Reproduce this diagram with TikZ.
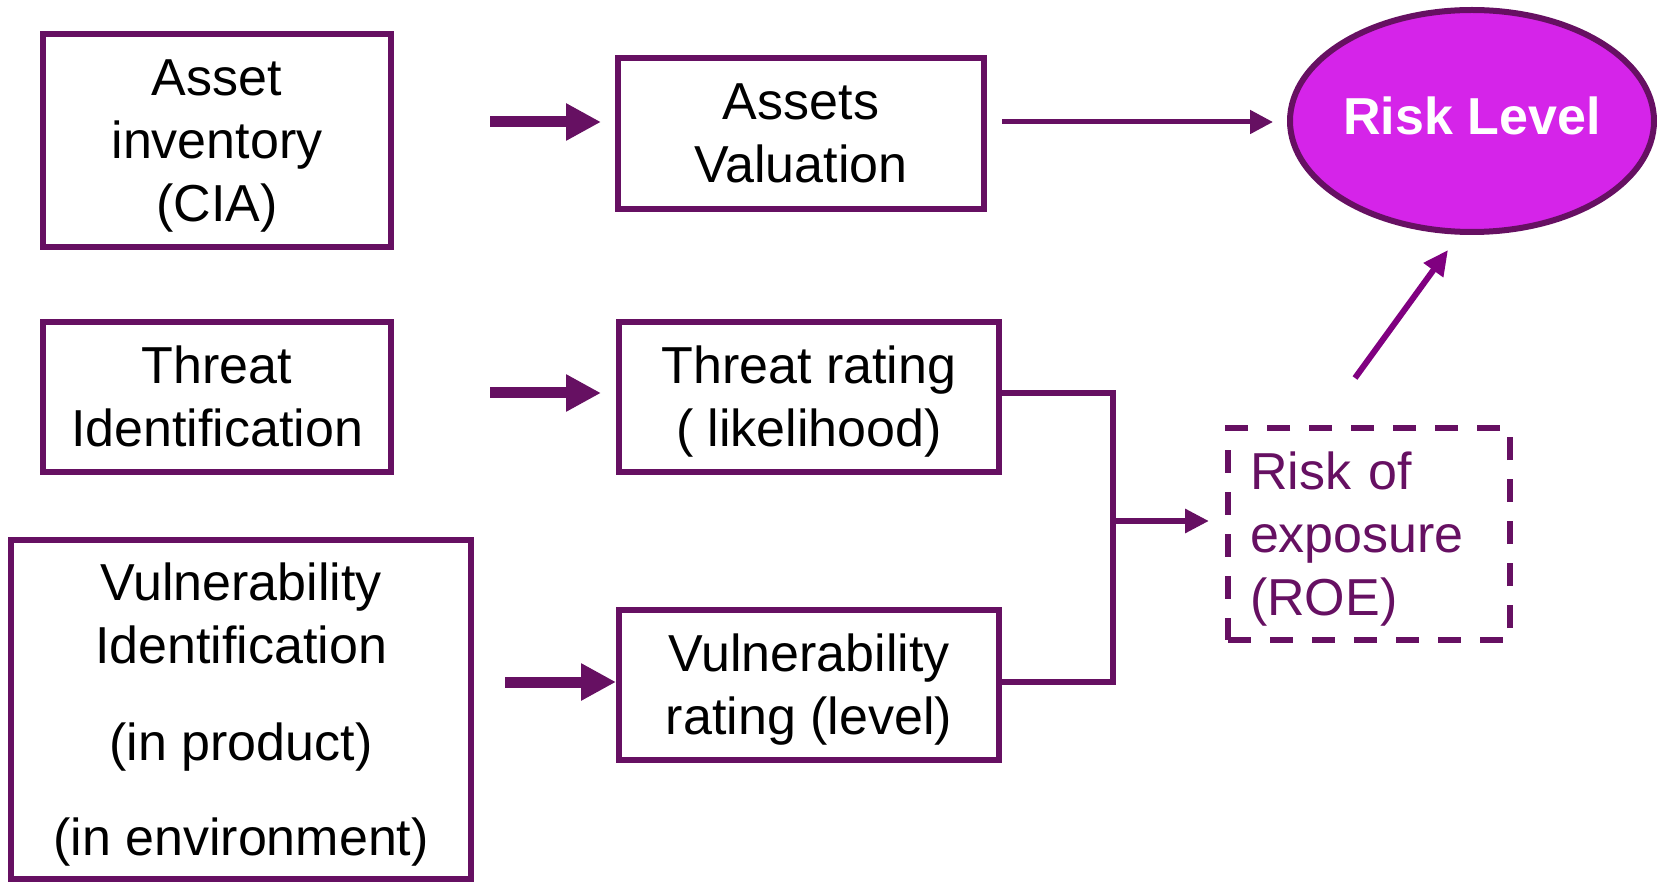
\documentclass[tikz,border=0pt]{standalone}
\usepackage{fontspec}
\setmainfont{Liberation Sans}
\usetikzlibrary{arrows.meta,shapes.geometric}
\definecolor{pline}{RGB}{102,16,98}
\definecolor{pfill}{RGB}{213,36,233}
\definecolor{pdiag}{RGB}{128,0,128}
\newcommand{\ppst}{\rule[-11pt]{0pt}{58pt}}
\tikzset{
  box/.style={draw=pline, line width=6pt, inner sep=0pt, align=center,
    font=\fontsize{52pt}{63pt}\selectfont, text=black},
  fatarrow/.style={draw=pline, line width=11pt, -{Triangle[length=35pt,width=35pt]}},
  thinarrow/.style={draw=pline, line width=5pt, -{Triangle[length=23pt,width=23pt]}},
  conn/.style={draw=pline, line width=6.5pt},
  roebox/.style={draw=pline, line width=6pt, dash pattern=on 23pt off 19pt,
    inner xsep=22pt, inner ysep=0pt, text width=238pt, align=left,
    font=\fontsize{52pt}{63pt}\selectfont, text=pline},
}
\begin{document}
\begin{tikzpicture}[x=1pt,y=-1pt]
\useasboundingbox (0,0) rectangle (1657,882);
% nodes
\node[box, minimum width=348pt, minimum height=213pt] (ai) at (217,140.5)
  {\ppst Asset\\inventory\\(CIA)\ppst};
\node[box, minimum width=366pt, minimum height=151pt] (av) at (801,133.5)
  {\ppst Assets\\Valuation\ppst};
\node[box, minimum width=348pt, minimum height=150pt] (ti) at (217,397)
  {\ppst Threat\\Identification\ppst};
\node[box, minimum width=380pt, minimum height=150pt] (tr) at (809,397)
  {\ppst Threat rating\\( likelihood)\ppst};
\node[box, minimum width=460pt, minimum height=339pt] (vi) at (241,709.5)
  {\ppst Vulnerability\\Identification\\[34pt](in product)\\[32pt](in environment)\ppst};
\node[box, minimum width=380pt, minimum height=150pt] (vr) at (809,685)
  {\ppst Vulnerability\\rating (level)\ppst};
\node[ellipse, draw=pline, fill=pfill, line width=6pt, inner sep=0pt,
  minimum width=364pt, minimum height=222pt, text=white, text depth=10pt,
  font=\fontsize{52pt}{63pt}\selectfont\bfseries] (rl) at (1472,121) {Risk Level};
\node[roebox, minimum height=212pt] (roe) at (1369,534)
  {\ppst Risk of\\exposure\\(ROE)\ppst};
% helper coordinates
\coordinate (y1) at (0,122);
\coordinate (y2) at (0,393);
\coordinate (y3) at (0,682);
\coordinate (j) at (1113,521);
\coordinate (d1) at (1355,378);
\coordinate (d2) at (1448,250);
% connectors
\draw[fatarrow, shorten <=96pt, shorten >=14pt] (ai.east |- y1) -- (av.west |- y1);
\draw[fatarrow, shorten <=96pt, shorten >=15pt] (ti.east |- y2) -- (tr.west |- y2);
\draw[fatarrow, shorten <=31pt] (vi.east |- y3) -- (vr.west |- y3);
\draw[thinarrow, shorten <=15pt, shorten >=14pt] (av.east |- y1) -- (rl.west |- y1);
\draw[conn] (tr.east |- y2) -| (j) |- (vr.east |- y3);
\draw[conn, -{Triangle[length=24pt,width=23pt]}, shorten >=16pt] (j) -- (roe.west |- j);
\draw[draw=pdiag, line width=6pt, -{Triangle[length=25pt,width=23pt]}] (d1) -- (d2);
\end{tikzpicture}
\end{document}
